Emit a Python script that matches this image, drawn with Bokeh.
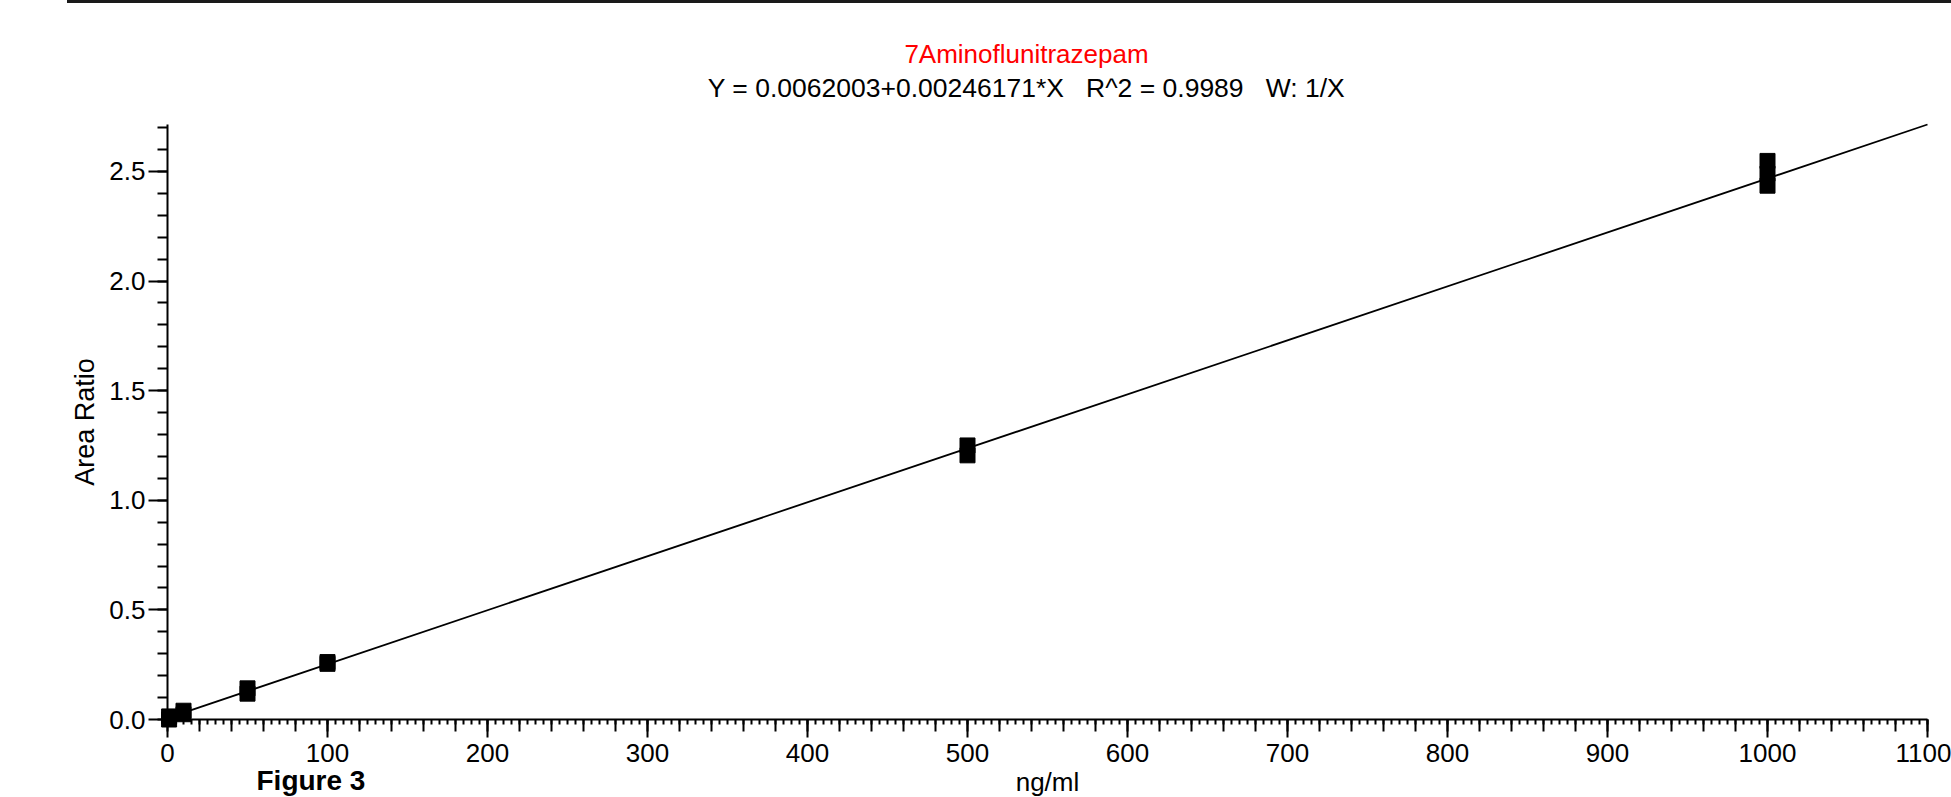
from bokeh.plotting import figure
from bokeh.models import Range1d, FixedTicker, LinearAxis, Label, Spacer
from bokeh.layouts import column
from bokeh.embed import file_html
from bokeh.resources import INLINE

# ---- data ----
compound = "7Aminoflunitrazepam"
intercept = 0.0062003
slope = 0.00246171
r_squared = "0.9989"
weighting = "1/X"
conc = [1, 1, 10, 10, 50, 50, 100, 100, 500, 500, 1000, 1000, 1000]
area_ratio = [0.000, 0.014, 0.024, 0.040, 0.118, 0.142, 0.254, 0.262, 1.205, 1.250, 2.435, 2.490, 2.548]
fit_x = [0, 1100]
x_ticks = [0, 100, 200, 300, 400, 500, 600, 700, 800, 900, 1000, 1100]
x_tick_labels = ["0", "100", "200", "300", "400", "500", "600", "700", "800", "900", "1000", "1100"]
y_ticks = [0.0, 0.5, 1.0, 1.5, 2.0, 2.5]
y_tick_labels = ["0.0", "0.5", "1.0", "1.5", "2.0", "2.5"]
x_label = "ng/ml"
y_label = "Area Ratio"
caption = "Figure 3"

fit_y = [intercept + slope * x for x in fit_x]
gap = " \u00a0\u00a0"
equation = f"Y = {intercept}+{slope}*X{gap}R^2 = {r_squared}{gap}W: {weighting}"

# ---- layout geometry (page pixels) ----
W, H, RULE_H = 1951, 797, 3
PX0, PX_END = 167, 1927          # page x of x=0 and x=1100
PY0, PY_TOP = 719, 124           # page y of y=0 and of the top of the fit line
x_lo, x_hi = fit_x[0], fit_x[-1]
y_top = fit_y[-1]
ppx = (PX_END - PX0) / (x_hi - x_lo)
ppy = (PY0 - PY_TOP) / y_top


def px_to_x(px):
    return x_lo + (px - PX0) / ppx


def py_to_y(py):
    return (PY0 - py) / ppy


FONT = "Liberation Sans"
FS = "26px"

p = figure(width=W, height=H - RULE_H, output_backend="svg", toolbar_location=None,
           x_range=Range1d(px_to_x(0), px_to_x(W)),
           y_range=Range1d(py_to_y(H), py_to_y(RULE_H)),
           x_axis_type=None, y_axis_type=None, min_border=0)
p.outline_line_color = None
p.background_fill_color = "white"
p.border_fill_color = "white"

# x axis at y = 0: labelled hundreds, medium ticks every 20
xa = LinearAxis(ticker=FixedTicker(ticks=x_ticks, minor_ticks=list(range(0, 1101, 20))),
                fixed_location=0, bounds=(x_lo, x_hi))
xa.major_label_overrides = {t: l for t, l in zip(x_ticks, x_tick_labels)}
xa.axis_line_width = 2
xa.axis_line_color = "black"
xa.major_tick_out = 18
xa.major_tick_in = 0
xa.minor_tick_out = 12
xa.minor_tick_in = 0
xa.major_tick_line_width = 2
xa.minor_tick_line_width = 2
xa.major_label_standoff = 6
xa.major_label_text_font = FONT
xa.major_label_text_font_size = FS
xa.major_label_text_color = "black"
xa.axis_label = x_label
xa.axis_label_text_font = FONT
xa.axis_label_text_font_size = FS
xa.axis_label_text_font_style = "normal"
xa.axis_label_text_color = "black"
xa.axis_label_standoff = 2
p.add_layout(xa, "below")

# small ticks every 5
xs = LinearAxis(ticker=FixedTicker(ticks=list(range(0, 1101, 5)), minor_ticks=[]),
                fixed_location=0, bounds=(x_lo, x_hi))
xs.axis_line_color = None
xs.major_tick_out = 5
xs.major_tick_in = 0
xs.major_tick_line_width = 2
xs.major_tick_line_color = "black"
xs.minor_tick_line_color = None
xs.major_label_text_color = None
xs.major_label_overrides = {t: "" for t in range(0, 1101, 5)}
p.add_layout(xs, "below")

# y axis at x = 0
ya = LinearAxis(ticker=FixedTicker(ticks=y_ticks, minor_ticks=[round(0.1 * k, 1) for k in range(0, 28)]),
                fixed_location=0, bounds=(0, y_top))
ya.major_label_overrides = {t: l for t, l in zip(y_ticks, y_tick_labels)}
ya.axis_line_width = 2
ya.axis_line_color = "black"
ya.major_tick_out = 19
ya.major_tick_in = 0
ya.minor_tick_out = 10
ya.minor_tick_in = 0
ya.major_tick_line_width = 2
ya.minor_tick_line_width = 2
ya.major_label_standoff = 3
ya.major_label_text_font = FONT
ya.major_label_text_font_size = FS
ya.major_label_text_color = "black"
ya.axis_label = y_label
ya.axis_label_text_font = FONT
ya.axis_label_text_font_size = "27px"
ya.axis_label_text_font_style = "normal"
ya.axis_label_text_color = "black"
ya.axis_label_standoff = 6
p.add_layout(ya, "left")

p.line(fit_x, fit_y, line_color="black", line_width=1.8)
p.scatter(conc, area_ratio, marker="square", size=15, fill_color="black", line_color="black")

# titles
title_x = px_to_x(1026)
p.add_layout(Label(x=title_x, y=py_to_y(53), text=compound, text_align="center", text_baseline="middle",
                   text_font=FONT, text_font_size=FS, text_color="#ff0000"))
p.add_layout(Label(x=title_x, y=py_to_y(87), text=equation, text_align="center", text_baseline="middle",
                   text_font=FONT, text_font_size="26.5px", text_color="black"))
# caption
p.add_layout(Label(x=px_to_x(256), y=py_to_y(764), text=caption, text_align="left", text_baseline="top",
                   text_font=FONT, text_font_size="28px", text_font_style="bold", text_color="black"))

rule = Spacer(width=W - 67, height=RULE_H, margin=(0, 0, 0, 67), styles={"background-color": "#1a1a1a"})

open("out.html", "w").write(file_html(column(rule, p, spacing=0), INLINE))
